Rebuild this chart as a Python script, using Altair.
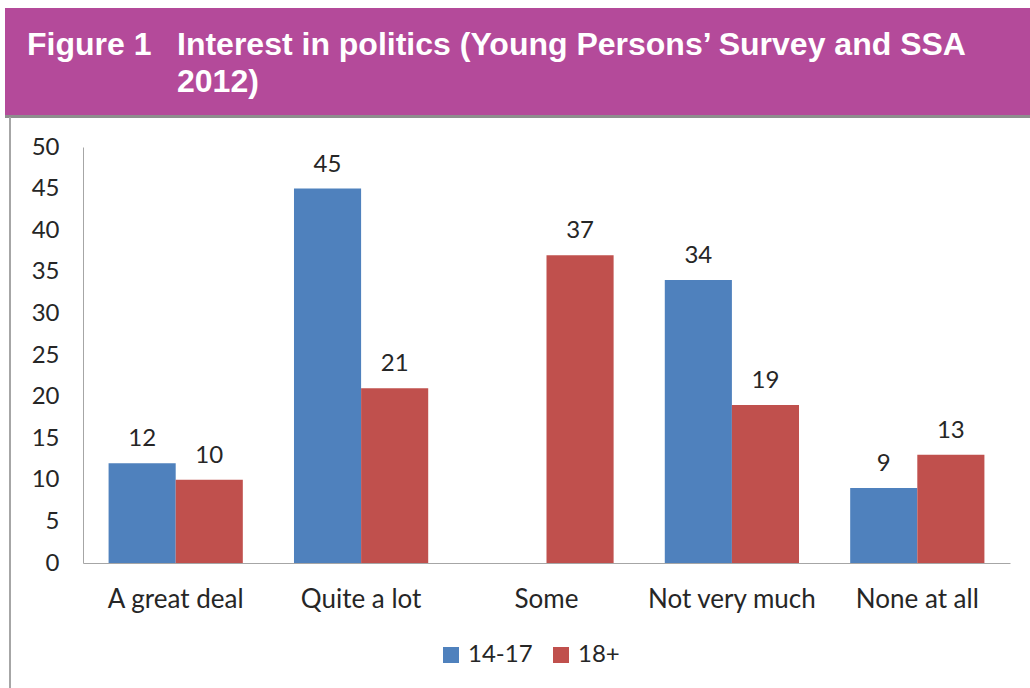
import altair as alt
import pandas as pd

categories = ["A great deal", "Quite a lot", "Some", "Not very much", "None at all"]
series = ["14-17", "18+"]
values_14_17 = [12, 45, None, 34, 9]
values_18 = [10, 21, 37, 19, 13]
colors = ["#4F81BD", "#C0504D"]

rows = []
for c, v1, v2 in zip(categories, values_14_17, values_18):
    if v1 is not None:
        rows.append({"cat": c, "series": "14-17", "value": v1})
    if v2 is not None:
        rows.append({"cat": c, "series": "18+", "value": v2})
df = pd.DataFrame(rows)

FONT = "Lato"
FS = 24

xenc = alt.X("cat:N", sort=categories, title=None,
             scale=alt.Scale(paddingInner=0.276, paddingOuter=0.138),
             axis=alt.Axis(labelAngle=0, ticks=False, domainColor="#A6A6A6",
                           labelFont=FONT, labelFontSize=26, labelColor="#262626",
                           labelPadding=23))
xoff = alt.XOffset("series:N", scale=alt.Scale(domain=series, paddingInner=0, paddingOuter=0))
yenc = alt.Y("value:Q", title=None,
             scale=alt.Scale(domain=[0, 50]),
             axis=alt.Axis(values=list(range(0, 51, 5)), ticks=False, grid=False,
                           domainColor="#A6A6A6", labelFont=FONT, labelFontSize=FS,
                           labelColor="#262626", labelPadding=24))

bars = alt.Chart(df).mark_bar().encode(
    x=xenc, xOffset=xoff, y=yenc,
    color=alt.Color("series:N", scale=alt.Scale(domain=series, range=colors),
                    legend=alt.Legend(title=None, orient="none", legendX=356, legendY=496,
                                      direction="horizontal", symbolType="square",
                                      symbolSize=256, symbolStrokeWidth=0,
                                      labelFont=FONT, labelFontSize=FS, labelColor="#262626",
                                      columnPadding=16, labelOffset=5))
)

labels = alt.Chart(df).mark_text(baseline="bottom", dy=-12, font=FONT, fontSize=FS,
                                 color="#262626").encode(
    x=alt.X("cat:N", sort=categories), xOffset=alt.XOffset("series:N", scale=alt.Scale(domain=series)),
    y="value:Q", text="value:Q"
)

one = pd.DataFrame({"k": [0]})
banner = alt.Chart(one).mark_rect(color="#B44A9A").encode(
    x=alt.value(-78), x2=alt.value(947), y=alt.value(-139), y2=alt.value(-32))
bline = alt.Chart(one).mark_rect(color="#8E8E8E").encode(
    x=alt.value(-78), x2=alt.value(947), y=alt.value(-32), y2=alt.value(-29))
lborder = alt.Chart(one).mark_rect(color="#A6A6A6").encode(
    x=alt.value(-74), x2=alt.value(-72), y=alt.value(-30), y2=alt.value(541))

tstyle = dict(align="left", baseline="alphabetic", font="Liberation Sans", fontSize=32,
              fontWeight="bold", color="white")
t1 = alt.Chart(one).mark_text(text="Figure 1", **tstyle).encode(x=alt.value(-56), y=alt.value(-92))
t2 = alt.Chart(one).mark_text(text="Interest in politics (Young Persons\u2019 Survey and SSA", **tstyle).encode(
    x=alt.value(94), y=alt.value(-92))
t3 = alt.Chart(one).mark_text(text="2012)", **tstyle).encode(x=alt.value(94), y=alt.value(-55))

chart = alt.layer(banner, bline, lborder, t1, t2, t3, bars, labels).properties(
    width=927, height=416,
    background="white",
    padding={"left": 83, "top": 147, "right": 20, "bottom": 125},
    autosize=alt.AutoSizeParams(type="none"),
).configure_view(stroke="transparent", strokeWidth=0)

chart.save("out.html", embed_options={"renderer": "svg", "actions": False})
